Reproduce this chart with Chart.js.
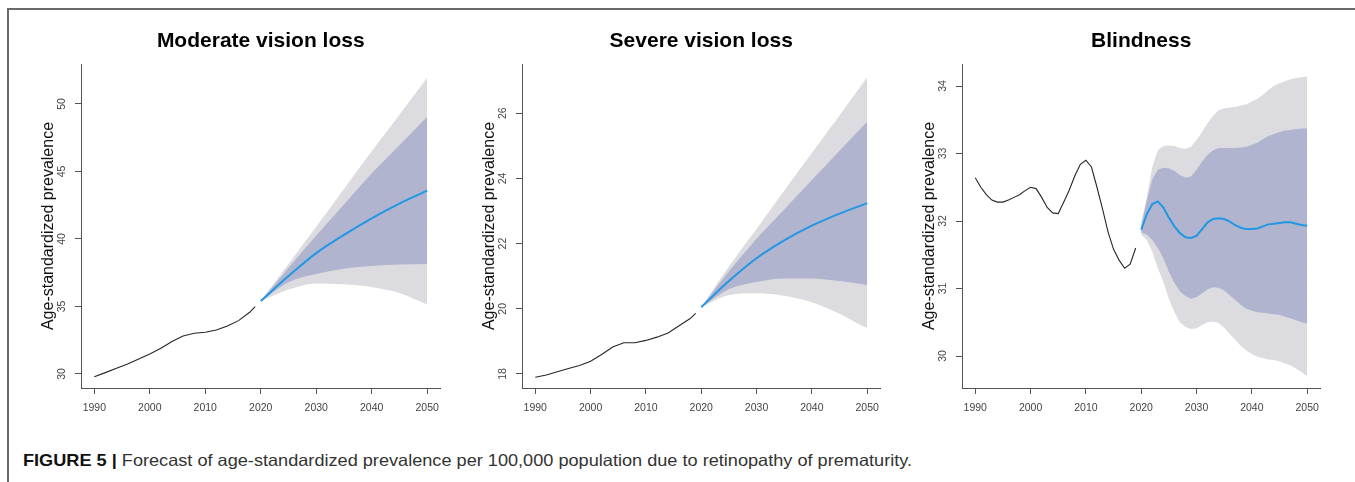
<!DOCTYPE html>
<html>
<head>
<meta charset="utf-8">
<title>Forecast of age-standardized prevalence</title>
<script src="https://cdn.jsdelivr.net/npm/chart.js@4.4.1/dist/chart.umd.min.js"></script>
<style>
  html, body { margin: 0; padding: 0; background: #fff; }
  body { width: 1355px; height: 482px; position: relative; overflow: hidden;
         font-family: "Liberation Sans", Arial, sans-serif; }
  #frame { position: absolute; left: 7px; top: 8px; width: 1348px; height: 474px;
           border-top: 2px solid #6a6a6a; border-left: 2px solid #6a6a6a; box-sizing: border-box; }
  canvas { position: absolute; top: 0; }
  #caption { position: absolute; left: 23px; top: 451px; font-size: 16.5px; line-height: 19px;
             color: #333; white-space: nowrap; transform-origin: 0 0; }
  #caption b { color: #111; }
</style>
</head>
<body>
<div id="frame"></div>
<canvas id="moderate"></canvas>
<canvas id="severe"></canvas>
<canvas id="blind"></canvas>
<div id="caption"><b>FIGURE 5 |</b> Forecast of age-standardized prevalence per 100,000 population due to retinopathy of prematurity.</div>

<script>
// ---- shared axis values ----
const xTickYears = [1990, 2000, 2010, 2020, 2030, 2040, 2050];
const yTitle = "Age-standardized prevalence";

// ---- Moderate vision loss ----
const modHistYears = [1990, 1992, 1994, 1996, 1998, 2000, 2002, 2004, 2006, 2008, 2010, 2012, 2014, 2016, 2018, 2019];
const modHist = [29.80, 30.10, 30.42, 30.74, 31.11, 31.48, 31.90, 32.40, 32.81, 33.01, 33.09, 33.26, 33.56, 33.95, 34.57, 34.99];
const modFcYears = [2020, 2025, 2030, 2035, 2040, 2045, 2050];
const modMean = [35.40, 37.25, 38.95, 40.30, 41.53, 42.62, 43.58];
const modHi80 = [35.40, 37.85, 40.25, 42.55, 44.85, 46.95, 49.06];
const modLo80 = [35.40, 36.80, 37.40, 37.80, 38.00, 38.10, 38.15];
const modHi95 = [35.40, 38.15, 40.90, 43.70, 46.50, 49.20, 51.95];
const modLo95 = [35.40, 36.25, 36.70, 36.65, 36.45, 36.00, 35.15];
const modTicks = [30, 35, 40, 45, 50];

// ---- Severe vision loss ----
const sevHistYears = [1990, 1992, 1994, 1996, 1998, 2000, 2002, 2004, 2006, 2008, 2010, 2012, 2014, 2016, 2018, 2019];
const sevHist = [17.90, 17.97, 18.07, 18.17, 18.26, 18.39, 18.60, 18.83, 18.96, 18.96, 19.03, 19.13, 19.26, 19.48, 19.70, 19.86];
const sevFcYears = [2020, 2025, 2030, 2035, 2040, 2045, 2050];
const sevMean = [20.05, 20.85, 21.55, 22.10, 22.55, 22.92, 23.24];
const sevHi80 = [20.05, 21.15, 22.15, 23.05, 23.95, 24.85, 25.74];
const sevLo80 = [20.05, 20.60, 20.82, 20.93, 20.93, 20.85, 20.73];
const sevHi95 = [20.05, 21.30, 22.45, 23.62, 24.78, 25.93, 27.10];
const sevLo95 = [20.05, 20.42, 20.48, 20.40, 20.20, 19.85, 19.40];
const sevTicks = [18, 20, 22, 24, 26];

// ---- Blindness ----
const blindHistYears = [1990, 1991, 1992, 1993, 1994, 1995, 1996, 1997, 1998, 1999,
                        2000, 2001, 2002, 2003, 2004, 2005, 2006, 2007, 2008, 2009,
                        2010, 2011, 2012, 2013, 2014, 2015, 2016, 2017, 2018, 2019];
const blindHist = [32.64, 32.50, 32.39, 32.31, 32.28, 32.28, 32.31, 32.35, 32.39, 32.45,
                   32.50, 32.48, 32.35, 32.20, 32.12, 32.11, 32.28, 32.46, 32.67, 32.84,
                   32.90, 32.80, 32.50, 32.18, 31.84, 31.58, 31.42, 31.30, 31.36, 31.60];
const blindFcYears = [2020, 2021, 2022, 2023, 2024, 2025, 2026, 2027, 2028, 2029,
                      2030, 2031, 2032, 2033, 2034, 2035, 2036, 2037, 2038, 2039,
                      2040, 2041, 2042, 2043, 2044, 2045, 2046, 2047, 2048, 2049, 2050];
const blindMean = [31.87, 32.10, 32.25, 32.29, 32.20, 32.05, 31.92, 31.82, 31.76, 31.75,
                   31.78, 31.88, 31.98, 32.03, 32.04, 32.03, 31.99, 31.94, 31.90, 31.88,
                   31.88, 31.89, 31.92, 31.95, 31.96, 31.97, 31.98, 31.98, 31.96, 31.94, 31.93];
const blindHi80 = [31.93, 32.30, 32.62, 32.76, 32.79, 32.78, 32.74, 32.68, 32.64, 32.66,
                   32.76, 32.88, 32.98, 33.05, 33.08, 33.08, 33.08, 33.08, 33.09, 33.10,
                   33.13, 33.16, 33.21, 33.26, 33.29, 33.32, 33.34, 33.35, 33.36, 33.37, 33.37];
const blindLo80 = [31.83, 31.80, 31.72, 31.60, 31.45, 31.25, 31.08, 30.96, 30.89, 30.85,
                   30.87, 30.93, 30.99, 31.02, 31.01, 30.97, 30.90, 30.83, 30.76, 30.70,
                   30.67, 30.65, 30.64, 30.63, 30.62, 30.61, 30.58, 30.56, 30.53, 30.50, 30.48];
const blindHi95 = [31.98, 32.35, 32.80, 33.05, 33.11, 33.12, 33.11, 33.08, 33.07, 33.10,
                   33.20, 33.32, 33.45, 33.56, 33.64, 33.67, 33.68, 33.69, 33.71, 33.73,
                   33.77, 33.81, 33.87, 33.94, 34.00, 34.04, 34.07, 34.10, 34.12, 34.13, 34.14];
const blindLo95 = [31.80, 31.72, 31.55, 31.30, 31.10, 30.85, 30.65, 30.50, 30.43, 30.40,
                   30.41, 30.46, 30.50, 30.51, 30.49, 30.42, 30.33, 30.24, 30.15, 30.08,
                   30.03, 29.99, 29.97, 29.95, 29.94, 29.92, 29.89, 29.86, 29.81, 29.76, 29.70];
const blindTicks = [30, 31, 32, 33, 34];

// ---- styling ----
const FONT = '"Liberation Sans", Arial, sans-serif';
const BLUE = '#2297E6';
const SHADE80 = '#B0B4CE';
const SHADE95 = '#DBDBE0';
const AXIS = '#555555';
const NONE = 'rgba(0,0,0,0)';

// Titles, rotated y tick labels and y axis title, placed from the chart's own scales
const panelText = {
  id: 'panelText',
  afterDraw(chart, args, opts) {
    const ctx = chart.ctx;
    const a = chart.chartArea;
    const y = chart.scales.y;
    ctx.save();
    ctx.fillStyle = '#000';
    ctx.font = 'bold 21px ' + FONT;
    ctx.textAlign = 'center';
    ctx.textBaseline = 'alphabetic';
    ctx.fillText(opts.title, (a.left + a.right) / 2, 47);

    ctx.font = '10.5px ' + FONT;
    ctx.fillStyle = '#444';
    ctx.textBaseline = 'middle';
    y.ticks.forEach(t => {
      const py = y.getPixelForValue(t.value);
      ctx.save();
      ctx.translate(a.left - 18.5, py);
      ctx.rotate(-Math.PI / 2);
      ctx.fillText(String(t.value), 0, 0);
      ctx.restore();
    });

    ctx.font = '16px ' + FONT;
    ctx.fillStyle = '#111';
    ctx.translate(a.left - 32.5, (a.top + a.bottom) / 2);
    ctx.rotate(-Math.PI / 2);
    ctx.fillText(opts.yTitle, 0, 0);
    ctx.restore();
  }
};

function pts(xs, ys) { return xs.map((x, i) => ({ x: x, y: ys[i] })); }

function axisOptions(extra) {
  return Object.assign({
    type: 'linear',
    grid: { display: true, drawOnChartArea: false, drawTicks: true, tickLength: 6, color: AXIS, lineWidth: 1 },
    border: { display: true, color: AXIS, width: 1 }
  }, extra);
}

function makePanel(id, p) {
  const cv = document.getElementById(id);
  const W = p.right - p.left + 80 + 4;
  const H = 440;
  cv.width = W; cv.height = H;
  cv.style.left = (p.left - 80) + 'px';
  cv.style.width = W + 'px'; cv.style.height = H + 'px';
  const interp = p.smooth ? { cubicInterpolationMode: 'monotone' } : { tension: 0 };
  const band = Object.assign({ borderColor: NONE, borderWidth: 0, pointRadius: 0 }, interp);

  new Chart(cv, {
    type: 'line',
    data: {
      datasets: [
        Object.assign({ data: pts(p.fcYears, p.mean), borderColor: BLUE, borderWidth: 2, pointRadius: 0, fill: false }, interp),
        Object.assign({ data: pts(p.fcYears, p.lo80), fill: false }, band),
        Object.assign({ data: pts(p.fcYears, p.hi80), fill: '-1', backgroundColor: SHADE80 }, band),
        Object.assign({ data: pts(p.fcYears, p.lo95), fill: false }, band),
        Object.assign({ data: pts(p.fcYears, p.hi95), fill: '-1', backgroundColor: SHADE95 }, band),
        { data: pts(p.histYears, p.hist), borderColor: '#262626', borderWidth: 1.1, pointRadius: 0, fill: false, tension: 0 }
      ]
    },
    options: {
      responsive: false,
      animation: false,
      devicePixelRatio: 1,
      layout: { padding: { left: 0, right: 4, top: 64, bottom: 12 } },
      plugins: {
        legend: { display: false },
        tooltip: { enabled: false },
        title: { display: false },
        panelText: { title: p.title, yTitle: yTitle }
      },
      scales: {
        x: axisOptions({
          min: 1987.6, max: 2052.4,
          afterBuildTicks: s => { s.ticks = xTickYears.map(v => ({ value: v })); },
          afterFit: s => { s.height = 40; },
          ticks: { color: '#444', font: { family: FONT, size: 10.5 }, padding: 8,
                   autoSkip: false, maxRotation: 0, minRotation: 0, callback: v => String(v) }
        }),
        y: axisOptions({
          min: p.ymin, max: p.ymax,
          afterBuildTicks: s => { s.ticks = p.ticks.map(v => ({ value: v })); },
          afterFit: s => { s.width = 80; },
          ticks: { display: false }
        })
      }
    },
    plugins: [panelText]
  });
}

makePanel('moderate', {
  title: 'Moderate vision loss', left: 81, right: 443, ymin: 28.96, ymax: 52.96, ticks: modTicks,
  histYears: modHistYears, hist: modHist, fcYears: modFcYears,
  mean: modMean, hi80: modHi80, lo80: modLo80, hi95: modHi95, lo95: modLo95, smooth: true
});
makePanel('severe', {
  title: 'Severe vision loss', left: 522, right: 883, ymin: 17.57, ymax: 27.51, ticks: sevTicks,
  histYears: sevHistYears, hist: sevHist, fcYears: sevFcYears,
  mean: sevMean, hi80: sevHi80, lo80: sevLo80, hi95: sevHi95, lo95: sevLo95, smooth: true
});
makePanel('blind', {
  title: 'Blindness', left: 962, right: 1323, ymin: 29.526, ymax: 34.326, ticks: blindTicks,
  histYears: blindHistYears, hist: blindHist, fcYears: blindFcYears,
  mean: blindMean, hi80: blindHi80, lo80: blindLo80, hi95: blindHi95, lo95: blindLo95, smooth: false
});

// caption line length fitted to the figure width
const cap = document.getElementById('caption');
const capW = cap.getBoundingClientRect().width;
cap.style.transform = 'scaleX(' + (889 / capW).toFixed(4) + ')';
</script>
</body>
</html>
